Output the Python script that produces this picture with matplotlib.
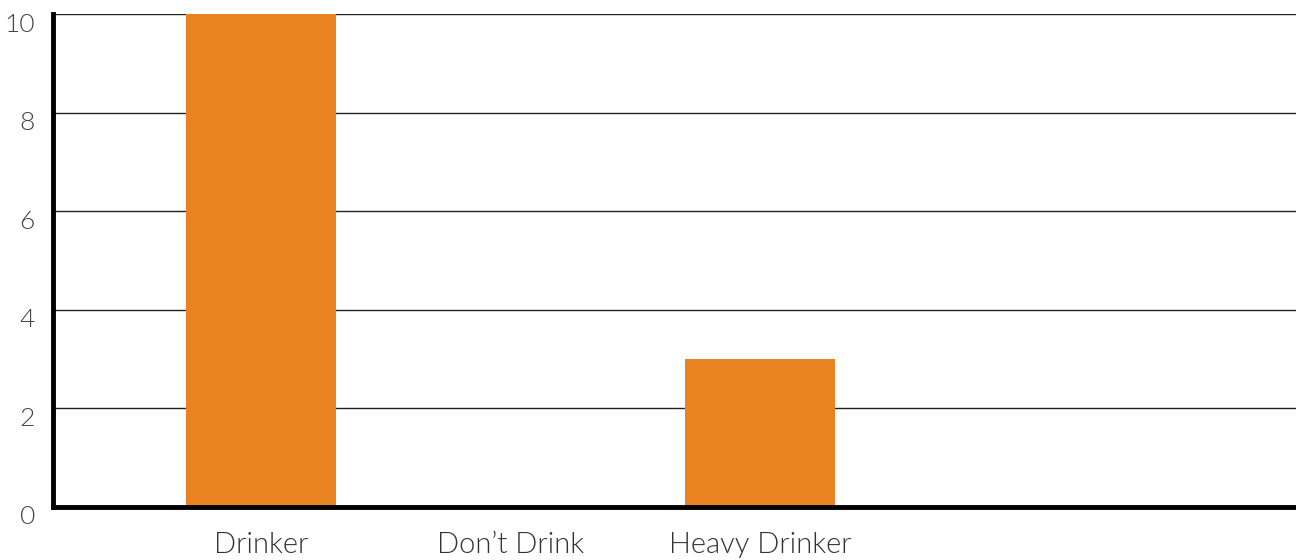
import numpy as np
import matplotlib
matplotlib.use('Agg')
import matplotlib.pyplot as plt
from matplotlib import transforms

categories = ['Drinker', "Don\u2019t Drink", 'Heavy Drinker']
counts = [10, 0, 3]
y_ticks = [0, 2, 4, 6, 8, 10]

plt.rcParams['font.family'] = ['Lato', 'DejaVu Sans']

fig = plt.figure(figsize=(12.96, 5.6), dpi=100)
ax = fig.add_axes([53 / 1296, 1 - 507 / 560, 1 - 53 / 1296, (507 - 14) / 560])

x = np.arange(len(categories))
ax.bar(x, counts, 0.6, color='#E98321', zorder=2)

ax.set_xlim(-0.834, 4.148)
ax.set_ylim(0, 10)

ax.set_yticks(y_ticks)
ax.set_yticklabels([str(v) for v in y_ticks], fontsize=19, fontweight=300, color='#444444')
ax.set_xticks(x)
ax.set_xticklabels(categories, fontsize=21, fontweight=300, color='#333333')
ax.tick_params(axis='both', length=0)
ax.tick_params(axis='y', pad=13)
ax.tick_params(axis='x', pad=18)

# shift y labels slightly below their gridlines
offset = transforms.ScaledTranslation(0, -8 / 100, fig.dpi_scale_trans)
for lbl in ax.get_yticklabels():
    lbl.set_transform(lbl.get_transform() + offset)

ax.yaxis.grid(True, color='#222222', linewidth=1, zorder=1)
ax.set_axisbelow(True)
for side in ['top', 'right']:
    ax.spines[side].set_visible(False)
ax.spines['left'].set_linewidth(3.5)
ax.spines['bottom'].set_linewidth(3.5)
ax.spines['left'].set_zorder(3)
ax.spines['bottom'].set_zorder(3)

fig.savefig('out.png', dpi=100)
